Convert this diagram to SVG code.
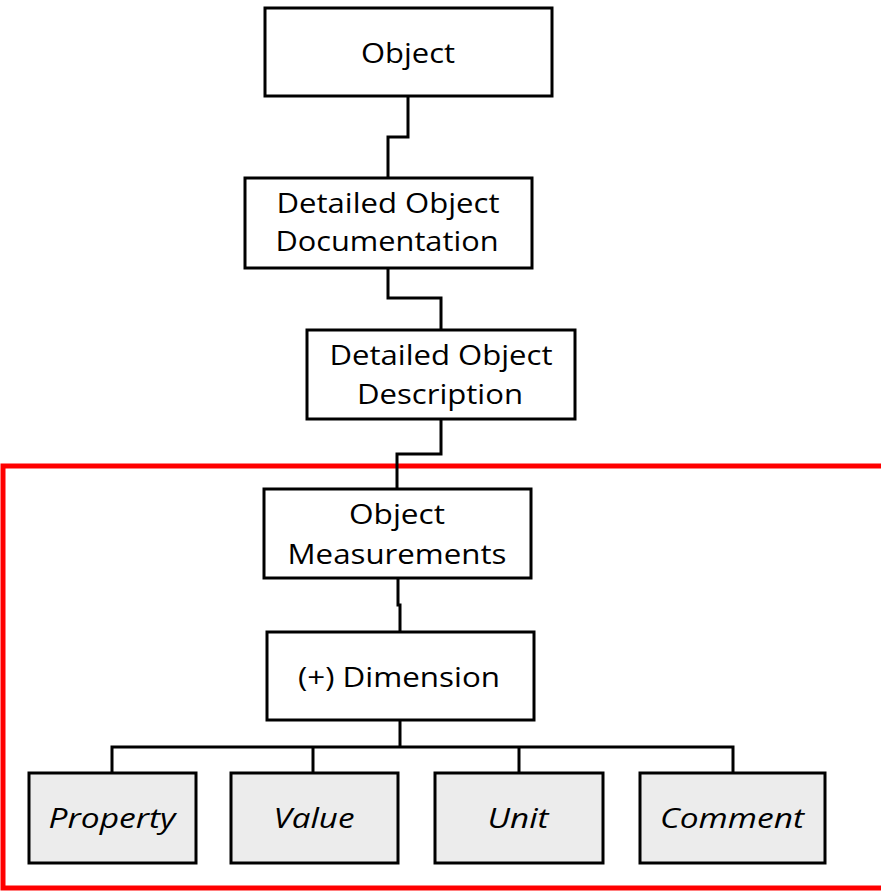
<svg xmlns="http://www.w3.org/2000/svg" width="881" height="891" viewBox="0 0 881 891">
<style>
.box{fill:#ffffff;stroke:#000;stroke-width:3}
.leaf{fill:#ececec;stroke:#000;stroke-width:3}
.lbl{font-family:"Open Sans","Liberation Sans",sans-serif;font-size:28px;fill:#000;text-anchor:middle}
.it{font-style:italic}
.conn{fill:none;stroke:#000;stroke-width:3}
</style>
<rect width="881" height="891" fill="#ffffff"/>
<rect x="3" y="466" width="890" height="422" fill="none" stroke="#ff0000" stroke-width="5"/>
<g id="connectors">
<path class="conn" d="M408,97 V137 H388 V178"/>
<path class="conn" d="M388,268 V298 H441 V330"/>
<path class="conn" d="M441,419 V454 H397 V489"/>
<path class="conn" d="M398,578 V605 H400 V632"/>
<path class="conn" d="M400,720 V747"/>
<path class="conn" d="M112,773 V747 H733 V773"/>
<path class="conn" d="M313,747 V773"/>
<path class="conn" d="M519,747 V773"/>
</g>
<g id="object">
<rect class="box" x="265" y="8" width="287" height="88"/>
<text class="lbl" x="408" y="63" textLength="94" lengthAdjust="spacingAndGlyphs">Object</text>
</g>
<g id="detailed-object-documentation">
<rect class="box" x="245" y="178" width="287" height="90"/>
<text class="lbl" x="388" y="213" textLength="223" lengthAdjust="spacingAndGlyphs">Detailed Object</text>
<text class="lbl" x="387" y="251" textLength="223" lengthAdjust="spacingAndGlyphs">Documentation</text>
</g>
<g id="detailed-object-description">
<rect class="box" x="307" y="330" width="268" height="89"/>
<text class="lbl" x="441" y="365" textLength="223" lengthAdjust="spacingAndGlyphs">Detailed Object</text>
<text class="lbl" x="440" y="404" textLength="166" lengthAdjust="spacingAndGlyphs">Description</text>
</g>
<g id="object-measurements">
<rect class="box" x="264" y="489" width="267" height="89"/>
<text class="lbl" x="397" y="524" textLength="96" lengthAdjust="spacingAndGlyphs">Object</text>
<text class="lbl" x="397" y="564" textLength="219" lengthAdjust="spacingAndGlyphs">Measurements</text>
</g>
<g id="dimension">
<rect class="box" x="267" y="632" width="267" height="88"/>
<text class="lbl" x="399" y="687" textLength="202" lengthAdjust="spacingAndGlyphs">(+) Dimension</text>
</g>
<g id="property">
<rect class="leaf" x="29" y="773" width="167" height="90"/>
<text class="lbl it" x="112" y="828" textLength="127" lengthAdjust="spacingAndGlyphs">Property</text>
</g>
<g id="value">
<rect class="leaf" x="231" y="773" width="167" height="90"/>
<text class="lbl it" x="314" y="828" textLength="81" lengthAdjust="spacingAndGlyphs">Value</text>
</g>
<g id="unit">
<rect class="leaf" x="435" y="773" width="168" height="90"/>
<text class="lbl it" x="518" y="828" textLength="61" lengthAdjust="spacingAndGlyphs">Unit</text>
</g>
<g id="comment">
<rect class="leaf" x="640" y="773" width="185" height="90"/>
<text class="lbl it" x="732" y="828" textLength="144" lengthAdjust="spacingAndGlyphs">Comment</text>
</g>
</svg>
